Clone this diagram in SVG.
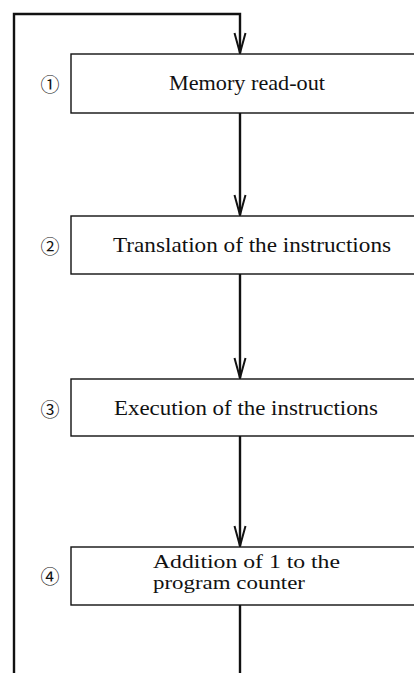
<svg xmlns="http://www.w3.org/2000/svg" width="414" height="673" viewBox="0 0 414 673">
<defs>
<style>
.box{fill:#fff;stroke:#111;stroke-width:1.4}
.line{fill:none;stroke:#111;stroke-width:2.4}
.head{fill:none;stroke:#111;stroke-width:2;stroke-linejoin:miter}
.lbl{font-family:"Liberation Serif","Times New Roman",serif;font-size:21px;fill:#111}
.sm{font-size:19px}
.num{font-family:"Noto Sans CJK JP","DejaVu Sans",sans-serif;font-size:19px;fill:#111;text-anchor:middle}
</style>
</defs>
<rect width="414" height="673" fill="#fff"/>
<g id="connectors">
<path class="line" d="M14,673 V14 H240 V53"/>
<path class="head" d="M234.5,33 L240,53 L245.5,33"/>
<path class="line" d="M240,113 V215"/>
<path class="head" d="M234.5,195 L240,215 L245.5,195"/>
<path class="line" d="M240,274 V378"/>
<path class="head" d="M234.5,358 L240,378 L245.5,358"/>
<path class="line" d="M240,436 V546"/>
<path class="head" d="M234.5,526 L240,546 L245.5,526"/>
<path class="line" d="M240,605 V673"/>
</g>
<g id="node1">
<rect class="box" x="71" y="54" width="350" height="59"/>
<text class="num" x="50" y="92">①</text>
<text class="lbl" x="169" y="90" textLength="156" lengthAdjust="spacingAndGlyphs">Memory read-out</text>
</g>
<g id="node2">
<rect class="box" x="71" y="216" width="350" height="58"/>
<text class="num" x="50" y="254">②</text>
<text class="lbl" x="113" y="252" textLength="278" lengthAdjust="spacingAndGlyphs">Translation of the instructions</text>
</g>
<g id="node3">
<rect class="box" x="71" y="379" width="350" height="57"/>
<text class="num" x="50" y="417">③</text>
<text class="lbl" x="114" y="415" textLength="264" lengthAdjust="spacingAndGlyphs">Execution of the instructions</text>
</g>
<g id="node4">
<rect class="box" x="71" y="547" width="350" height="58"/>
<text class="num" x="50" y="584">④</text>
<text class="lbl sm" x="153" y="568" textLength="187" lengthAdjust="spacingAndGlyphs">Addition of 1 to the</text>
<text class="lbl sm" x="153" y="589" textLength="152" lengthAdjust="spacingAndGlyphs">program counter</text>
</g>
</svg>
